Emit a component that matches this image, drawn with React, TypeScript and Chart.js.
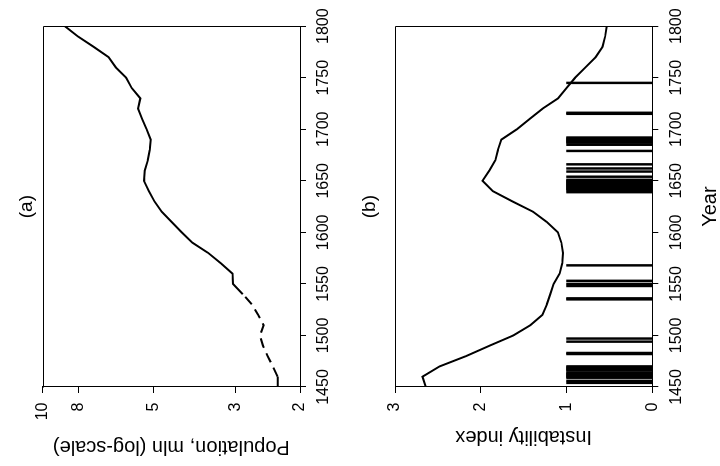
import React, { useEffect, useRef } from "react";
import { Chart, registerables } from "chart.js";

Chart.register(...registerables);

// Decadal series, 1450-1800
const years = [
  1450, 1460, 1470, 1480, 1490, 1500, 1510, 1520, 1530, 1540, 1550, 1560,
  1570, 1580, 1590, 1600, 1610, 1620, 1630, 1640, 1650, 1660, 1670, 1680,
  1690, 1700, 1710, 1720, 1730, 1740, 1750, 1760, 1770, 1780, 1790, 1800,
];

// Population, millions
const population = [
  2.3, 2.3, 2.37, 2.45, 2.52, 2.57, 2.51, 2.6, 2.7, 2.86, 3.04, 3.05,
  3.28, 3.55, 3.92, 4.19, 4.46, 4.75, 4.97, 5.15, 5.31, 5.28, 5.18, 5.12,
  5.09, 5.22, 5.37, 5.51, 5.43, 5.73, 5.93, 6.33, 6.62, 7.27, 8.02, 8.7,
];

// Instability index
const instability = [
  2.64, 2.68, 2.48, 2.17, 1.9, 1.62, 1.42, 1.28, 1.23, 1.19, 1.15, 1.08,
  1.05, 1.04, 1.06, 1.1, 1.23, 1.39, 1.63, 1.86, 1.98, 1.9, 1.83, 1.8,
  1.76, 1.58, 1.43, 1.28, 1.1, 1.0, 0.9, 0.78, 0.66, 0.58, 0.55, 0.53,
];

// Years marked as unstable (drawn as unit-height bars)
const unstableYears = [
  1454, 1456, 1459, 1460, 1461, 1462, 1463, 1464, 1466, 1467, 1468, 1469,
  1470, 1482, 1483, 1494, 1497, 1535, 1536, 1548, 1550, 1553, 1568, 1639,
  1641, 1642, 1643, 1644, 1645, 1646, 1647, 1648, 1649, 1650, 1651, 1654,
  1659, 1662, 1666, 1679, 1685, 1687, 1688, 1689, 1690, 1691, 1692, 1715,
  1716, 1745,
];

// Population estimates between these years are shown dashed
const dashedFrom = 1460;
const dashedTo = 1540;

const yearTicks = [1450, 1500, 1550, 1600, 1650, 1700, 1750, 1800];
const populationTicks = [2, 3, 5, 8, 10];
const instabilityTicks = [0, 1, 2, 3];

const FONT = "'Liberation Sans', Arial, Helvetica, sans-serif";
const INK = "#000";

// Closes the box on the two sides that carry no axis
const framePlugin = {
  id: "frame",
  afterDraw(chart: any) {
    const { ctx, chartArea: a } = chart;
    const l = Math.round(a.left) - 0.5;
    const t = Math.round(a.top) + 0.5;
    const r = Math.round(a.right) - 0.5;
    const b = Math.round(a.bottom) + 0.5;
    ctx.save();
    ctx.strokeStyle = INK;
    ctx.lineWidth = 1;
    ctx.beginPath();
    ctx.moveTo(l, t);
    ctx.lineTo(r, t);
    ctx.lineTo(r, b);
    ctx.stroke();
    ctx.restore();
  },
};

function yearAxis(height: number, title: string | null) {
  return {
    type: "linear",
    position: "bottom",
    min: 1450,
    max: 1800,
    offset: false,
    afterBuildTicks: (s: any) => {
      s.ticks = yearTicks.map((v) => ({ value: v }));
    },
    afterFit: (s: any) => {
      s.height = height;
    },
    grid: { offset: false, drawOnChartArea: false, drawTicks: true, tickLength: 6, color: INK, lineWidth: 1 },
    border: { display: true, color: INK, width: 1 },
    ticks: {
      color: INK,
      font: { size: 16, family: FONT },
      padding: 8.4,
      maxRotation: 0,
      minRotation: 0,
      autoSkip: false,
      callback: (v: any) => String(v),
    },
    title: title
      ? {
          display: true,
          text: title,
          color: INK,
          font: { size: 20, family: FONT, lineHeight: 1 },
          padding: { top: 0, bottom: 0 },
        }
      : { display: false },
  };
}

function valueAxis(extra: any, tickValues: number[], title: string, titlePad: number) {
  return {
    position: "left",
    ...extra,
    afterBuildTicks: (s: any) => {
      s.ticks = tickValues.map((v) => ({ value: v }));
    },
    afterFit: (s: any) => {
      s.width = 79;
    },
    grid: { drawOnChartArea: false, drawTicks: true, tickLength: 6, color: INK, lineWidth: 1 },
    border: { display: true, color: INK, width: 1 },
    ticks: {
      color: INK,
      font: { size: 16, family: FONT },
      padding: 9.5,
      autoSkip: false,
      callback: (v: any) => String(v),
    },
    title: {
      display: true,
      text: title,
      color: INK,
      font: { size: 20, family: FONT, lineHeight: 1.2 },
      padding: { top: titlePad, bottom: 0 },
    },
  };
}

function panelTitle(text: string, top: number, bottom: number) {
  return {
    display: true,
    fullSize: false,
    text,
    color: INK,
    font: { size: 19, family: FONT, weight: "normal", lineHeight: 1 },
    padding: { top, bottom },
  };
}

export default function App() {
  const popRef = useRef<HTMLCanvasElement>(null);
  const instRef = useRef<HTMLCanvasElement>(null);

  useEffect(() => {
    Chart.defaults.font.family = FONT;
    Chart.defaults.color = INK;

    const popChart = new Chart(popRef.current as HTMLCanvasElement, {
      type: "line",
      data: {
        datasets: [
          {
            data: years.map((y, i) => ({ x: y, y: population[i] })),
            borderColor: INK,
            borderWidth: 2,
            pointRadius: 0,
            fill: false,
            tension: 0,
            segment: {
              borderDash: (ctx: any) =>
                ctx.p0.parsed.x >= dashedFrom && ctx.p1.parsed.x <= dashedTo ? [10, 6] : undefined,
            },
          } as any,
        ],
      },
      options: {
        responsive: false,
        animation: false,
        events: [],
        layout: { padding: { left: 0, right: 22, top: 0, bottom: 0 } },
        plugins: {
          legend: { display: false },
          tooltip: { enabled: false },
          title: panelTitle("(a)", 17.5, 6.2) as any,
        },
        scales: {
          x: yearAxis(60, null) as any,
          y: valueAxis(
            { type: "logarithmic", min: 2, max: 10 },
            populationTicks,
            "Population, mln (log-scale)",
            7
          ) as any,
        },
      },
      plugins: [framePlugin],
    });

    const instChart = new Chart(instRef.current as HTMLCanvasElement, {
      type: "line",
      data: {
        datasets: [
          {
            type: "line",
            data: years.map((y, i) => ({ x: y, y: instability[i] })),
            borderColor: INK,
            borderWidth: 2,
            pointRadius: 0,
            fill: false,
            tension: 0,
          } as any,
          {
            type: "bar",
            data: unstableYears.map((y) => ({ x: y, y: 1 })),
            backgroundColor: INK,
            borderWidth: 0,
            barThickness: 1.8,
          } as any,
        ],
      },
      options: {
        responsive: false,
        animation: false,
        events: [],
        layout: { padding: { left: 0, right: 22, top: 0, bottom: 0 } },
        plugins: {
          legend: { display: false },
          tooltip: { enabled: false },
          title: panelTitle("(b)", 0.5, 15.5) as any,
        },
        scales: {
          x: yearAxis(67.7, "Year") as any,
          y: valueAxis(
            { type: "linear", min: 0, max: 3 },
            instabilityTicks,
            "Instability index",
            17
          ) as any,
        },
      },
      plugins: [framePlugin],
    });

    return () => {
      popChart.destroy();
      instChart.destroy();
    };
  }, []);

  return (
    <div
      style={{
        position: "fixed",
        left: 0,
        top: 0,
        width: 466,
        height: 720,
        background: "#fff",
        transformOrigin: "0 0",
        transform: "translateY(466px) rotate(-90deg)",
      }}
    >
      <canvas ref={popRef} width={466} height={360} style={{ display: "block", width: 466, height: 360 }} />
      <canvas ref={instRef} width={466} height={360} style={{ display: "block", width: 466, height: 360 }} />
    </div>
  );
}
